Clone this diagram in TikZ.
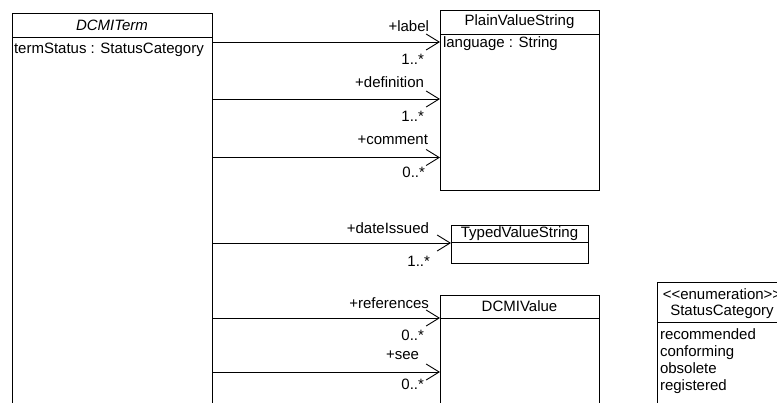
\documentclass[tikz,border=0pt]{standalone}
\usepackage{fontspec}
\setmainfont{Liberation Sans}
\usetikzlibrary{arrows.meta}
\begin{document}
\begin{tikzpicture}[x=1pt,y=-1pt,
  classbox/.style={draw=black, line width=0.9pt, anchor=north west, inner sep=0pt, outer sep=0pt, fill=white},
  txt/.style={inner sep=0pt, outer sep=0pt, font=\fontsize{15}{17}\selectfont},
  rlab/.style={txt, anchor=east},
  llab/.style={txt, anchor=west},
  blab/.style={txt, anchor=base west},
  divider/.style={draw=black, line width=0.9pt},
  assoc/.style={draw=black, line width=0.9pt, -{Straight Barb[length=13pt, width=16pt, line width=0.9pt]}}
]
\useasboundingbox (0,0) rectangle (777,403);
\clip (0,0) rectangle (777,403);
\fill[white] (0,0) rectangle (777,403);

% classes
\node[classbox, minimum width=200pt, minimum height=420pt] (term) at (12,13) {};
\node[classbox, minimum width=159pt, minimum height=180pt] (plain) at (440,10) {};
\node[classbox, minimum width=137pt, minimum height=38pt] (typed) at (451,225) {};
\node[classbox, minimum width=159pt, minimum height=140pt] (value) at (440,295) {};
\node[classbox, minimum width=160pt, minimum height=140pt] (status) at (657,282) {};

% compartments
\draw[divider] (term.west |- 0,37.5) -- (term.east |- 0,37.5);
\draw[divider] (plain.west |- 0,34) -- (plain.east |- 0,34);
\draw[divider] (typed.west |- 0,242) -- (typed.east |- 0,242);
\draw[divider] (value.west |- 0,318) -- (value.east |- 0,318);
\draw[divider] (status.west |- 0,322) -- (status.east |- 0,322);

% class names and attributes
\node[txt, font=\fontsize{15}{17}\selectfont\itshape] (termname) at (112,25) {DCMITerm};
\node[llab] (termattr) at (14,50) {termStatus : StatusCategory};
\node[txt] (plainname) at (519.5,22) {PlainValueString};
\node[llab] (plainattr) at (443,44) {language : String};
\node[txt] (typedname) at (519.5,233.5) {TypedValueString};
\node[txt] (valuename) at (519.5,306.5) {DCMIValue};
\node[txt] (stereo) at (722,294) {<{}<enumeration>{}>};
\node[txt] (statusname) at (722,312) {StatusCategory};
\node[blab] (e1) at (660,339.5) {recommended};
\node[blab] (e2) at (660,356.5) {conforming};
\node[blab] (e3) at (660,373.5) {obsolete};
\node[blab] (e4) at (660,390.5) {registered};

% associations
\draw[assoc] (term.east |- 0,42) -- (plain.west |- 0,42);
\draw[assoc] (term.east |- 0,99) -- (plain.west |- 0,99);
\draw[assoc] (term.east |- 0,157.5) -- (plain.west |- 0,157.5);
\draw[assoc] (term.east |- 0,243) -- (typed.west |- 0,243);
\draw[assoc] (term.east |- 0,318) -- (value.west |- 0,318);
\draw[assoc] (term.east |- 0,372) -- (value.west |- 0,372);

% role names and multiplicities
\node[rlab] (r1) at (429,26) {+label};
\node[rlab] (m1) at (424,59) {1..*};
\node[rlab] (r2) at (424,82.5) {+definition};
\node[rlab] (m2) at (424,116) {1..*};
\node[rlab] (r3) at (428,140) {+comment};
\node[rlab] (m3) at (425,172) {0..*};
\node[rlab] (r4) at (429,228) {+dateIssued};
\node[rlab] (m4) at (430,261) {1..*};
\node[rlab] (r5) at (429,303) {+references};
\node[rlab] (m5) at (424,335) {0..*};
\node[rlab] (r6) at (419,355) {+see};
\node[rlab] (m6) at (424,384) {0..*};
\end{tikzpicture}
\end{document}
